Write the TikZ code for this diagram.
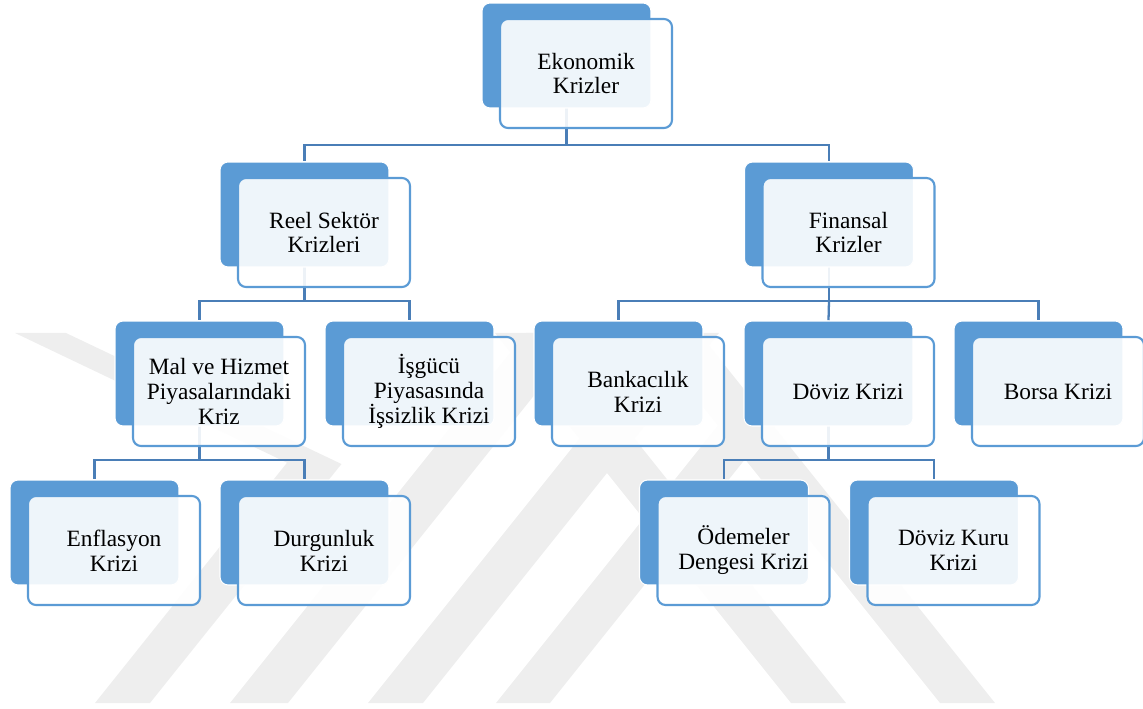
\documentclass[tikz,border=0pt]{standalone}
\usepackage{fontspec}
\setmainfont{Liberation Serif}
\usetikzlibrary{positioning}
\definecolor{boxblue}{RGB}{91,155,213}
\definecolor{linkblue}{RGB}{74,126,183}
\definecolor{wmgray}{RGB}{238,238,238}
\pgfdeclarelayer{wm}
\pgfdeclarelayer{links}
\pgfsetlayers{wm,links,main}

\begin{document}
\begin{tikzpicture}[x=0.02cm, y=-0.02cm,
    backbox/.style={rectangle, rounded corners=0.16cm, fill=boxblue, draw=white, line width=0.6pt, minimum width=3.38cm, minimum height=2.1cm},
    frontbox/.style={rectangle, rounded corners=0.16cm, fill=white, fill opacity=0.9, text opacity=1, draw=boxblue, line width=1.2pt, minimum width=3.44cm, minimum height=2.18cm, align=center, font=\fontsize{13.3}{14.2}\selectfont, shift={(19.5,18)}},
    link/.style={draw=linkblue, line width=1.3pt}]
                \useasboundingbox (0,0) rectangle (1143,709);

                \begin{pgfonlayer}{wm}
                \fill[wmgray] (95,703) -- (150,703) -- (341.5,464) -- (66,333) -- (15,333) -- (287,462.7) -- cycle;
                \fill[wmgray] (230,703) -- (288,703) -- (584,333) -- (526,333) -- cycle;
                \fill[wmgray] (368,703) -- (423,703) -- (719,333) -- (664,333) -- cycle;
                \fill[wmgray] (496,703) -- (550,703) -- (846,333) -- (792,333) -- cycle;
                \fill[wmgray] (791,703) -- (846,703) -- (550,333) -- (495,333) -- cycle;
                \fill[wmgray] (940,703) -- (995,703) -- (699,333) -- (644,333) -- cycle;
                \end{pgfonlayer}

                \node[backbox] (ekob) at (566.5,55.5) {};
                \node[frontbox] (eko) at (ekob) {Ekonomik\\Krizler};

                \node[backbox] (reelb) at (304.5,214.5) {};
                \node[frontbox] (reel) at (reelb) {Reel Sektör\\Krizleri};
                \node[backbox] (finb) at (829,214.5) {};
                \node[frontbox] (fin) at (finb) {Finansal\\Krizler};

                \node[backbox] (malb) at (199.5,373.5) {};
                \node[frontbox] (mal) at (malb) {Mal ve Hizmet\\Piyasalarındaki\\Kriz};
                \node[backbox] (isgb) at (409.5,373.5) {};
                \node[frontbox] (isg) at (isgb) {İşgücü\\Piyasasında\\İşsizlik Krizi};
                \node[backbox] (bankb) at (618.5,373.5) {};
                \node[frontbox] (bank) at (bankb) {Bankacılık\\Krizi};
                \node[backbox] (dovb) at (828.5,373.5) {};
                \node[frontbox] (dov) at (dovb) {Döviz Krizi};
                \node[backbox] (borb) at (1038.5,373.5) {};
                \node[frontbox] (bor) at (borb) {Borsa Krizi};

                \node[backbox] (enfb) at (94.5,532.5) {};
                \node[frontbox] (enf) at (enfb) {Enflasyon\\Krizi};
                \node[backbox] (durb) at (304.5,532.5) {};
                \node[frontbox] (dur) at (durb) {Durgunluk\\Krizi};
                \node[backbox] (odeb) at (724,532.5) {};
                \node[frontbox] (ode) at (odeb) {Ödemeler\\Dengesi Krizi};
                \node[backbox] (kurb) at (934,532.5) {};
                \node[frontbox] (kur) at (kurb) {Döviz Kuru\\Krizi};

                \coordinate (bus1) at (0,145);
                \coordinate (bus2) at (0,301);
                \coordinate (bus3) at (0,460);

                \begin{pgfonlayer}{links}
                \draw[link] (ekob.center) -- (ekob.center |- bus1) -| (reelb.north);
                \draw[link] (ekob.center |- bus1) -| (finb.north);
                \draw[link] (reelb.center) -- (reelb.center |- bus2) -| (malb.north);
                \draw[link] (reelb.center |- bus2) -| (isgb.north);
                \draw[link] (finb.center) -- (finb.center |- bus2) -| (bankb.north);
                \draw[link] (finb.center |- bus2) -| (borb.north);
                \draw[link] (finb.center |- bus2) -- (dovb.north);
                \draw[link] (malb.center) -- (malb.center |- bus3) -| (enfb.north);
                \draw[link] (malb.center |- bus3) -| (durb.north);
                \draw[link] (dovb.center) -- (dovb.center |- bus3) -| (odeb.north);
                \draw[link] (dovb.center |- bus3) -| (kurb.north);
                \end{pgfonlayer}
                \end{tikzpicture}
\end{document}
